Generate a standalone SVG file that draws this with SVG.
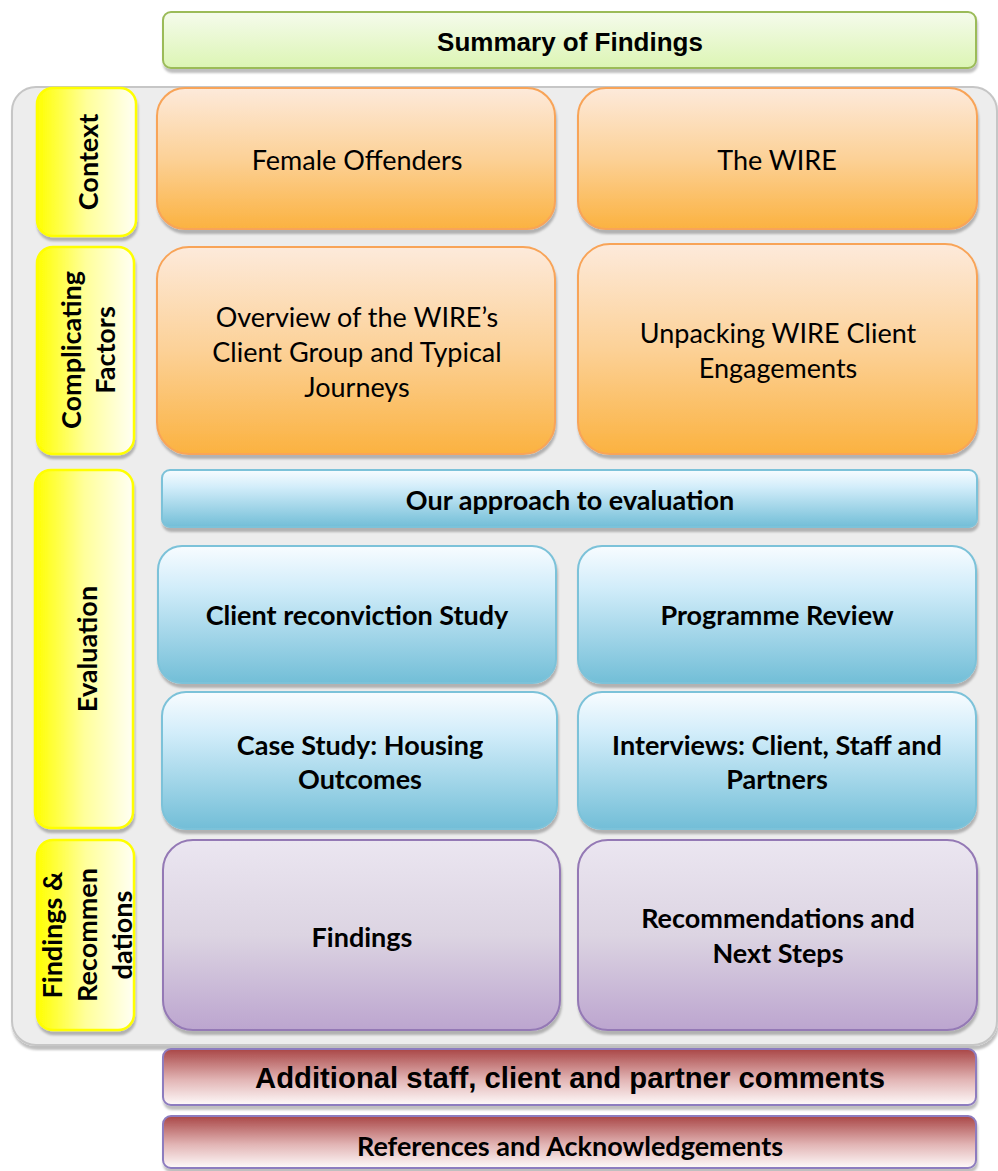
<svg xmlns="http://www.w3.org/2000/svg" width="998" height="1171" viewBox="0 0 998 1171">
<defs>
<linearGradient id="gGreen" x1="0" y1="0" x2="0" y2="1"><stop offset="0" stop-color="#f5fbec"/><stop offset="1" stop-color="#dcf5b4"/></linearGradient>
<linearGradient id="gYellow" x1="0" y1="0" x2="1" y2="0"><stop offset="0" stop-color="#ffff00"/><stop offset="0.5" stop-color="#ffff9a"/><stop offset="1" stop-color="#fffff4"/></linearGradient>
<linearGradient id="gOrange" x1="0" y1="0" x2="0" y2="1"><stop offset="0" stop-color="#fdeadb"/><stop offset="0.5" stop-color="#fcd197"/><stop offset="1" stop-color="#fbb240"/></linearGradient>
<linearGradient id="gBlue" x1="0" y1="0" x2="0" y2="1"><stop offset="0" stop-color="#f8fcff"/><stop offset="0.3" stop-color="#d2edfa"/><stop offset="1" stop-color="#72bed7"/></linearGradient>
<linearGradient id="gPurple" x1="0" y1="0" x2="0" y2="1"><stop offset="0" stop-color="#ebe6f1"/><stop offset="0.5" stop-color="#dcd4e2"/><stop offset="1" stop-color="#bca5cf"/></linearGradient>
<linearGradient id="gRed" x1="0" y1="0" x2="0" y2="1"><stop offset="0" stop-color="#a94646"/><stop offset="0.55" stop-color="#e2b5b5"/><stop offset="1" stop-color="#fefafa"/></linearGradient>
<filter id="sh" x="-5%" y="-10%" width="110%" height="130%"><feDropShadow dx="1" dy="4" stdDeviation="1" flood-color="#000" flood-opacity="0.25"/></filter>
</defs>
<style>
.green{fill:url(#gGreen);stroke:#9bbb59;stroke-width:2;filter:url(#sh)}
.yellow{fill:url(#gYellow);stroke:#ffff00;stroke-width:2.5;filter:url(#sh)}
.orange{fill:url(#gOrange);stroke:#f8a458;stroke-width:2;filter:url(#sh)}
.blue{fill:url(#gBlue);stroke:#7cc2d9;stroke-width:2;filter:url(#sh)}
.purple{fill:url(#gPurple);stroke:#9479b5;stroke-width:2;filter:url(#sh)}
.red{fill:url(#gRed);stroke:#8d7cbf;stroke-width:2;filter:url(#sh)}
.arial{font-family:"Liberation Sans",Arial,sans-serif;font-weight:bold;fill:#000;text-anchor:middle}
.cal{font-family:Lato,"Open Sans",sans-serif;fill:#000;text-anchor:middle;font-size:27px}
.b{font-weight:bold}
</style>
<rect x="12" y="87" width="985" height="958" rx="24" fill="#ededed" stroke="#c6c6c6" stroke-width="2" filter="url(#sh)"/>
<g id="summary"><rect class="green" x="163" y="12" width="813" height="56" rx="8"/><text class="arial" x="570" y="51" font-size="26">Summary of Findings</text></g>
<g id="label-context"><rect class="yellow" x="37" y="88" width="99" height="148" rx="16"/><text class="cal b" transform="translate(98,162) rotate(-90)">Context</text></g>
<g id="label-complicating"><rect class="yellow" x="37" y="247" width="97" height="207" rx="16"/><text class="cal b" transform="translate(81,350) rotate(-90)">Complicating</text><text class="cal b" transform="translate(115,350) rotate(-90)">Factors</text></g>
<g id="label-evaluation"><rect class="yellow" x="35" y="470" width="98" height="358" rx="16"/><text class="cal b" transform="translate(97,649) rotate(-90)">Evaluation</text></g>
<g id="label-findings"><rect class="yellow" x="37" y="840" width="97" height="190" rx="16"/><text class="cal b" transform="translate(62,935) rotate(-90)">Findings &amp;</text><text class="cal b" transform="translate(97,935) rotate(-90)">Recommen</text><text class="cal b" transform="translate(132,935) rotate(-90)">dations</text></g>
<g id="female-offenders"><rect class="orange" x="157" y="88" width="398" height="141" rx="28"/><text class="cal" x="357" y="170">Female Offenders</text></g>
<g id="the-wire"><rect class="orange" x="578" y="88" width="399" height="141" rx="28"/><text class="cal" x="777" y="170">The WIRE</text></g>
<g id="overview"><rect class="orange" x="157" y="247" width="398" height="207" rx="32"/><text class="cal" x="357" y="327">Overview of the WIRE’s</text><text class="cal" x="357" y="362">Client Group and Typical</text><text class="cal" x="357" y="397">Journeys</text></g>
<g id="unpacking"><rect class="orange" x="578" y="244" width="399" height="210" rx="32"/><text class="cal" x="778" y="343">Unpacking WIRE Client</text><text class="cal" x="778" y="378">Engagements</text></g>
<g id="approach"><rect class="blue" x="162" y="470" width="815" height="57" rx="8"/><text class="cal b" x="570" y="510">Our approach to evaluation</text></g>
<g id="reconviction"><rect class="blue" x="158" y="546" width="398" height="137" rx="24"/><text class="cal b" x="357" y="625">Client reconviction Study</text></g>
<g id="programme"><rect class="blue" x="578" y="546" width="398" height="137" rx="24"/><text class="cal b" x="777" y="625">Programme Review</text></g>
<g id="case-study"><rect class="blue" x="162" y="692" width="395" height="137" rx="24"/><text class="cal b" x="360" y="755">Case Study: Housing</text><text class="cal b" x="360" y="789">Outcomes</text></g>
<g id="interviews"><rect class="blue" x="578" y="692" width="398" height="137" rx="24"/><text class="cal b" x="777" y="755">Interviews: Client, Staff and</text><text class="cal b" x="777" y="789">Partners</text></g>
<g id="findings"><rect class="purple" x="163" y="840" width="397" height="190" rx="30"/><text class="cal b" x="362" y="947">Findings</text></g>
<g id="recommendations"><rect class="purple" x="578" y="840" width="399" height="190" rx="30"/><text class="cal b" x="778" y="928">Recommendations and</text><text class="cal b" x="778" y="963">Next Steps</text></g>
<g id="additional"><rect class="red" x="163" y="1049" width="813" height="56" rx="8"/><text class="arial" x="570" y="1088" font-size="29.3">Additional staff, client and partner comments</text></g>
<g id="references"><rect class="red" x="163" y="1116" width="813" height="52" rx="8"/><text class="cal b" x="570" y="1156">References and Acknowledgements</text></g>
</svg>
